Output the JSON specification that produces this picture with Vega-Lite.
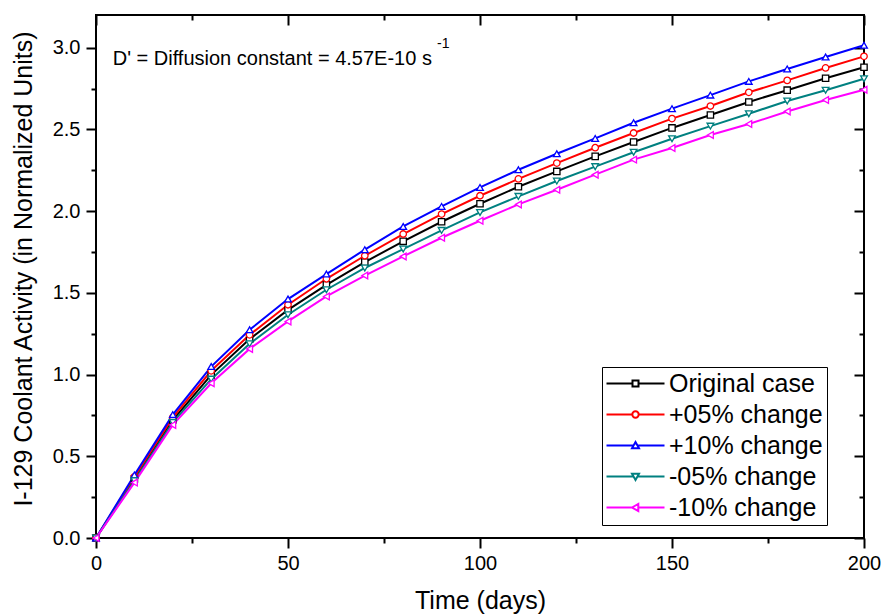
{
  "$schema": "https://vega.github.io/schema/vega-lite/v6.json",
  "width": 768,
  "height": 523,
  "autosize": {"type": "none"},
  "padding": {"left": 96, "top": 15, "right": 18, "bottom": 78},
  "background": "white",
  "config": {
    "font": "Liberation Sans",
    "view": {"stroke": "black", "strokeWidth": 2},
    "axis": {"domain": false, "grid": false, "tickColor": "black", "tickWidth": 2, "labelColor": "black", "titleColor": "black", "labelFont": "Liberation Sans", "titleFont": "Liberation Sans", "titleFontWeight": "normal", "labelFlush": false, "labelOverlap": false},
    "legend": {"symbolOpacity": 1, "symbolStrokeWidth": 2}
  },
  "datasets": {
    "activity": [
      {"day": 0, "case": "Original case", "activity": 0}, {"day": 0, "case": "+05% change", "activity": 0}, {"day": 0, "case": "+10% change", "activity": 0}, {"day": 0, "case": "-05% change", "activity": 0}, {"day": 0, "case": "-10% change", "activity": 0},
      {"day": 10, "case": "Original case", "activity": 0.362}, {"day": 10, "case": "+05% change", "activity": 0.374}, {"day": 10, "case": "+10% change", "activity": 0.386}, {"day": 10, "case": "-05% change", "activity": 0.350}, {"day": 10, "case": "-10% change", "activity": 0.339},
      {"day": 20, "case": "Original case", "activity": 0.722}, {"day": 20, "case": "+05% change", "activity": 0.738}, {"day": 20, "case": "+10% change", "activity": 0.755}, {"day": 20, "case": "-05% change", "activity": 0.707}, {"day": 20, "case": "-10% change", "activity": 0.692},
      {"day": 30, "case": "Original case", "activity": 0.998}, {"day": 30, "case": "+05% change", "activity": 1.023}, {"day": 30, "case": "+10% change", "activity": 1.049}, {"day": 30, "case": "-05% change", "activity": 0.972}, {"day": 30, "case": "-10% change", "activity": 0.947},
      {"day": 40, "case": "Original case", "activity": 1.217}, {"day": 40, "case": "+05% change", "activity": 1.243}, {"day": 40, "case": "+10% change", "activity": 1.274}, {"day": 40, "case": "-05% change", "activity": 1.188}, {"day": 40, "case": "-10% change", "activity": 1.157},
      {"day": 50, "case": "Original case", "activity": 1.396}, {"day": 50, "case": "+05% change", "activity": 1.427}, {"day": 50, "case": "+10% change", "activity": 1.462}, {"day": 50, "case": "-05% change", "activity": 1.366}, {"day": 50, "case": "-10% change", "activity": 1.325},
      {"day": 60, "case": "Original case", "activity": 1.549}, {"day": 60, "case": "+05% change", "activity": 1.586}, {"day": 60, "case": "+10% change", "activity": 1.615}, {"day": 60, "case": "-05% change", "activity": 1.519}, {"day": 60, "case": "-10% change", "activity": 1.478},
      {"day": 70, "case": "Original case", "activity": 1.688}, {"day": 70, "case": "+05% change", "activity": 1.727}, {"day": 70, "case": "+10% change", "activity": 1.764}, {"day": 70, "case": "-05% change", "activity": 1.652}, {"day": 70, "case": "-10% change", "activity": 1.606},
      {"day": 80, "case": "Original case", "activity": 1.815}, {"day": 80, "case": "+05% change", "activity": 1.860}, {"day": 80, "case": "+10% change", "activity": 1.906}, {"day": 80, "case": "-05% change", "activity": 1.768}, {"day": 80, "case": "-10% change", "activity": 1.723},
      {"day": 90, "case": "Original case", "activity": 1.935}, {"day": 90, "case": "+05% change", "activity": 1.982}, {"day": 90, "case": "+10% change", "activity": 2.029}, {"day": 90, "case": "-05% change", "activity": 1.882}, {"day": 90, "case": "-10% change", "activity": 1.837},
      {"day": 100, "case": "Original case", "activity": 2.045}, {"day": 100, "case": "+05% change", "activity": 2.094}, {"day": 100, "case": "+10% change", "activity": 2.145}, {"day": 100, "case": "-05% change", "activity": 1.992}, {"day": 100, "case": "-10% change", "activity": 1.941},
      {"day": 110, "case": "Original case", "activity": 2.149}, {"day": 110, "case": "+05% change", "activity": 2.197}, {"day": 110, "case": "+10% change", "activity": 2.253}, {"day": 110, "case": "-05% change", "activity": 2.090}, {"day": 110, "case": "-10% change", "activity": 2.041},
      {"day": 120, "case": "Original case", "activity": 2.243}, {"day": 120, "case": "+05% change", "activity": 2.294}, {"day": 120, "case": "+10% change", "activity": 2.351}, {"day": 120, "case": "-05% change", "activity": 2.184}, {"day": 120, "case": "-10% change", "activity": 2.131},
      {"day": 130, "case": "Original case", "activity": 2.335}, {"day": 130, "case": "+05% change", "activity": 2.388}, {"day": 130, "case": "+10% change", "activity": 2.445}, {"day": 130, "case": "-05% change", "activity": 2.272}, {"day": 130, "case": "-10% change", "activity": 2.223},
      {"day": 140, "case": "Original case", "activity": 2.423}, {"day": 140, "case": "+05% change", "activity": 2.478}, {"day": 140, "case": "+10% change", "activity": 2.541}, {"day": 140, "case": "-05% change", "activity": 2.360}, {"day": 140, "case": "-10% change", "activity": 2.315},
      {"day": 150, "case": "Original case", "activity": 2.509}, {"day": 150, "case": "+05% change", "activity": 2.566}, {"day": 150, "case": "+10% change", "activity": 2.627}, {"day": 150, "case": "-05% change", "activity": 2.443}, {"day": 150, "case": "-10% change", "activity": 2.386},
      {"day": 160, "case": "Original case", "activity": 2.588}, {"day": 160, "case": "+05% change", "activity": 2.643}, {"day": 160, "case": "+10% change", "activity": 2.710}, {"day": 160, "case": "-05% change", "activity": 2.520}, {"day": 160, "case": "-10% change", "activity": 2.466},
      {"day": 170, "case": "Original case", "activity": 2.668}, {"day": 170, "case": "+05% change", "activity": 2.727}, {"day": 170, "case": "+10% change", "activity": 2.794}, {"day": 170, "case": "-05% change", "activity": 2.596}, {"day": 170, "case": "-10% change", "activity": 2.533},
      {"day": 180, "case": "Original case", "activity": 2.740}, {"day": 180, "case": "+05% change", "activity": 2.800}, {"day": 180, "case": "+10% change", "activity": 2.870}, {"day": 180, "case": "-05% change", "activity": 2.674}, {"day": 180, "case": "-10% change", "activity": 2.610},
      {"day": 190, "case": "Original case", "activity": 2.813}, {"day": 190, "case": "+05% change", "activity": 2.876}, {"day": 190, "case": "+10% change", "activity": 2.943}, {"day": 190, "case": "-05% change", "activity": 2.740}, {"day": 190, "case": "-10% change", "activity": 2.680},
      {"day": 200, "case": "Original case", "activity": 2.880}, {"day": 200, "case": "+05% change", "activity": 2.947}, {"day": 200, "case": "+10% change", "activity": 3.015}, {"day": 200, "case": "-05% change", "activity": 2.810}, {"day": 200, "case": "-10% change", "activity": 2.743}
    ],
    "note": [{"note": "D' = Diffusion constant = 4.57E-10 s", "day": 4.35, "value": 2.896}],
    "sup": [{"note": "-1", "day": 88.8, "value": 2.998}]
  },
  "layer": [
    {
      "data": {"name": "activity"},
      "mark": {"type": "line", "strokeWidth": 2},
      "encoding": {
        "x": {"field": "day", "type": "quantitative", "scale": {"domain": [0, 200], "nice": false, "zero": false},
          "axis": {"orient": "bottom", "values": [0, 50, 100, 150, 200], "tickSize": 10, "labelFontSize": 20, "labelPadding": 5, "title": "Time (days)", "titleFontSize": 25, "titleBaseline": "alphabetic", "titleY": 70.5}},
        "y": {"field": "activity", "type": "quantitative", "scale": {"domain": [0, 3.2], "nice": false},
          "axis": {"orient": "left", "values": [0, 0.5, 1, 1.5, 2, 2.5, 3], "format": ".1f", "tickSize": 10, "labelFontSize": 20, "labelPadding": 6, "title": "I-129 Coolant Activity (in Normalized Units)", "titleFontSize": 25, "titleBaseline": "alphabetic", "titleX": -65, "titleY": 253.5}},
        "color": {"field": "case", "type": "nominal",
          "scale": {"domain": ["Original case", "+05% change", "+10% change", "-05% change", "-10% change"], "range": ["#000000", "#ff0000", "#0000ff", "#008080", "#ff00ff"]},
          "legend": {"orient": "none", "legendX": 506, "legendY": 352, "title": null, "strokeColor": "black", "fillColor": "white", "padding": 4,
            "symbolSize": 400, "symbolStrokeWidth": 2, "symbolOpacity": 1, "labelFontSize": 25, "labelFont": "Liberation Sans", "labelColor": "black", "labelOffset": 38, "rowPadding": 5, "labelLimit": 400}
        }
      }
    },
    {
      "data": {"name": "activity"},
      "transform": [{"filter": {"field": "case", "equal": "Original case"}}],
      "mark": {"type": "point", "shape": "square", "filled": false, "fill": "white", "fillOpacity": 1, "opacity": 1, "strokeWidth": 1.3, "size": 40},
      "encoding": {
        "x": {"field": "day", "type": "quantitative", "axis": {"orient": "bottom", "values": [25, 75, 125, 175], "tickSize": 5, "labels": false, "title": null}},
        "y": {"field": "activity", "type": "quantitative", "axis": {"orient": "left", "values": [0.25, 0.75, 1.25, 1.75, 2.25, 2.75], "tickSize": 5, "labels": false, "title": null}},
        "color": {"field": "case", "type": "nominal", "legend": null}
      }
    },
    {
      "data": {"name": "activity"},
      "transform": [{"filter": {"field": "case", "equal": "+05% change"}}],
      "mark": {"type": "point", "shape": "circle", "filled": false, "fill": "white", "fillOpacity": 1, "opacity": 1, "strokeWidth": 1.3, "size": 42},
      "encoding": {
        "x": {"field": "day", "type": "quantitative", "axis": null},
        "y": {"field": "activity", "type": "quantitative", "axis": null},
        "color": {"field": "case", "type": "nominal", "legend": null}
      }
    },
    {
      "data": {"name": "activity"},
      "transform": [{"filter": {"field": "case", "equal": "+10% change"}}],
      "mark": {"type": "point", "shape": "triangle-up", "filled": false, "fill": "white", "fillOpacity": 1, "opacity": 1, "strokeWidth": 1.3, "size": 45},
      "encoding": {
        "x": {"field": "day", "type": "quantitative", "axis": null},
        "y": {"field": "activity", "type": "quantitative", "axis": null},
        "color": {"field": "case", "type": "nominal", "legend": null}
      }
    },
    {
      "data": {"name": "activity"},
      "transform": [{"filter": {"field": "case", "equal": "-05% change"}}],
      "mark": {"type": "point", "shape": "triangle-down", "filled": false, "fill": "white", "fillOpacity": 1, "opacity": 1, "strokeWidth": 1.3, "size": 45},
      "encoding": {
        "x": {"field": "day", "type": "quantitative", "axis": null},
        "y": {"field": "activity", "type": "quantitative", "axis": null},
        "color": {"field": "case", "type": "nominal", "legend": null}
      }
    },
    {
      "data": {"name": "activity"},
      "transform": [{"filter": {"field": "case", "equal": "-10% change"}}],
      "mark": {"type": "point", "shape": "triangle-left", "filled": false, "fill": "white", "fillOpacity": 1, "opacity": 1, "strokeWidth": 1.3, "size": 45},
      "encoding": {
        "x": {"field": "day", "type": "quantitative", "axis": null},
        "y": {"field": "activity", "type": "quantitative", "axis": null},
        "color": {"field": "case", "type": "nominal", "legend": null}
      }
    },
    {
      "data": {"name": "activity"},
      "mark": {"type": "point", "filled": false, "opacity": 0, "strokeWidth": 2},
      "encoding": {
        "x": {"field": "day", "type": "quantitative", "axis": null},
        "y": {"field": "activity", "type": "quantitative", "axis": null},
        "color": {"field": "case", "type": "nominal"},
        "shape": {"field": "case", "type": "nominal",
          "scale": {"domain": ["Original case", "+05% change", "+10% change", "-05% change", "-10% change"],
            "range": ["M-1.2,0H1.4M2,0H4.6M1.4,-0.3H2V0.3H1.4Z", "M-1.2,0H1.38M2.02,0H4.6M1.38,0A0.32,0.32 0 1,0 2.02,0A0.32,0.32 0 1,0 1.38,0Z", "M-1.2,0H1.5M1.9,0H4.6M1.7,-0.35L2.05,0.28L1.35,0.28Z", "M-1.2,0H1.5M1.9,0H4.6M1.7,0.35L2.05,-0.28L1.35,-0.28Z", "M-1.2,0H1.35M1.98,0H4.6M1.35,0L1.98,-0.35L1.98,0.35Z"]},
          "legend": {"title": null, "symbolOpacity": 1}}
      }
    },
    {
      "data": {"name": "note"},
      "mark": {"type": "text", "align": "left", "baseline": "alphabetic", "fontSize": 20, "color": "black", "font": "Liberation Sans"},
      "encoding": {
        "x": {"field": "day", "type": "quantitative", "axis": {"orient": "top", "values": [0, 50, 100, 150, 200], "tickSize": -10, "labels": false, "title": null}},
        "y": {"field": "value", "type": "quantitative", "axis": {"orient": "right", "values": [0, 0.5, 1, 1.5, 2, 2.5, 3], "tickSize": -10, "labels": false, "title": null}},
        "text": {"field": "note"}
      }
    },
    {
      "data": {"name": "sup"},
      "mark": {"type": "text", "align": "left", "baseline": "alphabetic", "fontSize": 14, "color": "black", "font": "Liberation Sans"},
      "encoding": {
        "x": {"field": "day", "type": "quantitative", "axis": {"orient": "top", "values": [25, 75, 125, 175], "tickSize": -5, "labels": false, "title": null}},
        "y": {"field": "value", "type": "quantitative", "axis": {"orient": "right", "values": [0.25, 0.75, 1.25, 1.75, 2.25, 2.75], "tickSize": -5, "labels": false, "title": null}},
        "text": {"field": "note"}
      }
    }
  ],
  "resolve": {"axis": {"x": "independent", "y": "independent"}}
}
